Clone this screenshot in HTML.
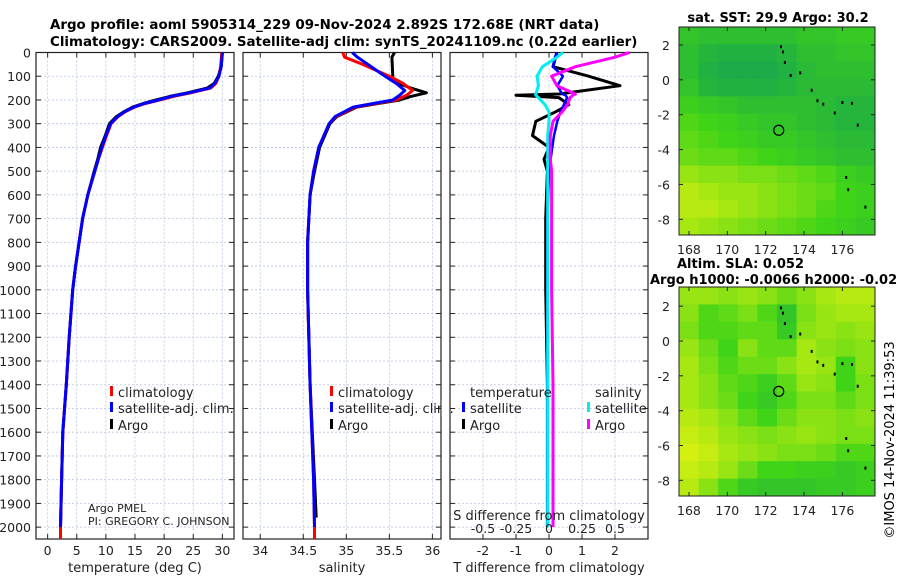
<!DOCTYPE html>
<html><head><meta charset="utf-8"><style>
html,body{margin:0;padding:0;background:#fff;}
svg{display:block;font-family:"DejaVu Sans","Liberation Sans",sans-serif;}
</style></head><body>
<svg id="fig" width="900" height="580" viewBox="0 0 900 580" xmlns="http://www.w3.org/2000/svg">
<text x="50" y="29" font-size="13.4" font-weight="bold">Argo profile: aoml 5905314_229 09-Nov-2024 2.892S 172.68E (NRT data)</text>
<text x="50" y="46" font-size="13.4" font-weight="bold">Climatology: CARS2009. Satellite-adj clim: synTS_20241109.nc (0.22d earlier)</text>
<text x="778" y="22" font-size="13" font-weight="bold" text-anchor="middle">sat. SST: 29.9 Argo: 30.2</text>
<text x="677" y="268" font-size="13" font-weight="bold">Altim. SLA: 0.052</text>
<text x="650" y="284" font-size="13" font-weight="bold">Argo h1000: -0.0066 h2000: -0.02</text>
<text transform="translate(894,440) rotate(-90)" font-size="13" text-anchor="middle">©IMOS 14-Nov-2024 11:39:53</text>
</svg>
<script>
// ---------- data ----------
const depthTicks=[0,100,200,300,400,500,600,700,800,900,1000,1100,1200,1300,1400,1500,1600,1700,1800,1900,2000];
const tTicks=[0,5,10,15,20,25,30];
const sTicks=[34,34.5,35,35.5,36];
const dTTicks=[-2,-1,0,1,2];
const dSTicks=[-0.5,-0.25,0,0.25,0.5];
const dSTickLabels=["-0.5","-0.25","0","0.25","0.5"];

const tDepth=[0,60,100,130,150,170,185,200,215,230,250,270,300,350,400,450,500,600,700,800,900,1000,1200,1400,1600,1800,2000];
const tArgo=[30,29.8,29.3,28.6,27.4,24,21,18.6,16.4,14.6,13.1,11.8,10.6,9.9,9.1,8.6,8.0,6.9,6.0,5.4,4.8,4.3,3.7,3.2,2.6,2.4,2.2];
const tClim=[29.9,29.7,29.4,28.9,28.0,24.6,21.6,19.2,16.8,14.9,13.3,12.1,10.9,10.1,9.4,8.7,8.1,6.9,6.0,5.4,4.8,4.3,3.7,3.2,2.6,2.4,2.2];
const tSat=[30,29.8,29.4,28.7,27.8,24.3,21.2,19.0,16.6,14.8,13.2,12.0,10.8,10.0,9.3,8.7,8.1,6.9,6.0,5.4,4.8,4.3,3.7,3.2,2.6,2.4,2.2];
const tClimDeep=[2.2,2.2]; const climDeepDepth=[2000,2050];

const sArgoDepth=[0,20,100,120,150,170,185,200,230,270,300,400,500,600,800,1000,1400,1800,1960];
const sArgo=[35.56,35.53,35.54,35.54,35.75,35.93,35.75,35.62,35.12,34.89,34.81,34.69,34.63,34.58,34.55,34.55,34.58,34.63,34.65];
const sClimDepth=[0,20,50,100,130,160,180,200,230,270,300,400,500,600,800,1000,1400,1800,2000];
const sClim=[34.96,34.98,35.19,35.5,35.66,35.77,35.7,35.58,35.1,34.88,34.8,34.68,34.62,34.58,34.55,34.55,34.58,34.62,34.63];
const sSat=[35.07,35.13,35.25,35.45,35.58,35.68,35.62,35.54,35.08,34.87,34.8,34.68,34.62,34.58,34.55,34.55,34.58,34.62,34.63];
const sClimDeep=[34.63,34.63];

const dDepth=[0,20,60,100,140,175,180,190,220,250,290,350,400,450,500,700,1000,1400,2000];
const dTArgo=[0.24,0.2,0.12,1.2,2.15,0.3,-1.0,0.3,0.6,0.2,-0.4,-0.5,0.0,-0.15,-0.05,-0.1,-0.1,-0.05,-0.05];
const dTSat=[0.24,0.18,0.12,0.42,0.25,0.4,0.5,0.55,0.45,0.35,0.25,0.15,0.1,0.05,0.0,-0.05,-0.05,-0.05,-0.05];
const dSSat=[0.106,0.06,-0.05,-0.09,-0.08,-0.1,-0.1,-0.08,-0.03,0.0,0.0,-0.01,-0.01,-0.01,-0.01,-0.01,-0.01,-0.01,-0.01];
const dSArgo=[0.61,0.5,0.2,0.02,0.06,0.2,0.18,0.16,0.14,0.1,0.03,0.01,0.01,0.01,0.02,0.02,0.02,0.03,0.03];

const lonTicks=[168,170,172,174,176];
const latTicks=[2,0,-2,-4,-6,-8];
const sstGrid=[
[0.35,0.3,0.3,0.3,0.3,0.3,0.35,0.35,0.4,0.4],
[0.3,0.2,0.15,0.15,0.15,0.2,0.3,0.3,0.35,0.35],
[0.3,0.15,0.1,0.1,0.1,0.15,0.25,0.3,0.3,0.3],
[0.35,0.2,0.15,0.15,0.15,0.2,0.25,0.25,0.25,0.25],
[0.45,0.4,0.35,0.3,0.3,0.3,0.3,0.25,0.2,0.2],
[0.55,0.5,0.45,0.4,0.35,0.35,0.3,0.25,0.2,0.2],
[0.6,0.55,0.5,0.45,0.4,0.4,0.35,0.3,0.25,0.25],
[0.65,0.6,0.6,0.55,0.5,0.45,0.4,0.35,0.3,0.3],
[0.8,0.75,0.75,0.7,0.7,0.65,0.6,0.55,0.45,0.4],
[0.9,0.85,0.8,0.8,0.75,0.7,0.65,0.6,0.5,0.45],
[0.9,0.9,0.85,0.8,0.75,0.7,0.65,0.55,0.5,0.45],
[0.85,0.8,0.75,0.7,0.65,0.6,0.55,0.5,0.45,0.4]];
const slaGrid=[
[0.8,0.8,0.75,0.8,0.75,0.65,0.75,0.85,0.9,0.9],
[0.75,0.55,0.6,0.7,0.55,0.35,0.7,0.8,0.85,0.85],
[0.7,0.55,0.55,0.6,0.6,0.4,0.75,0.8,0.75,0.8],
[0.8,0.65,0.5,0.75,0.6,0.6,0.85,0.75,0.7,0.75],
[0.85,0.7,0.55,0.65,0.65,0.75,0.85,0.8,0.5,0.75],
[0.85,0.75,0.6,0.55,0.45,0.6,0.8,0.75,0.5,0.7],
[0.85,0.75,0.65,0.5,0.4,0.55,0.7,0.7,0.6,0.7],
[0.9,0.85,0.75,0.6,0.5,0.65,0.75,0.75,0.7,0.75],
[0.95,0.9,0.8,0.75,0.7,0.75,0.8,0.75,0.7,0.7],
[1,0.95,0.85,0.8,0.75,0.7,0.7,0.65,0.55,0.55],
[0.95,0.9,0.8,0.65,0.5,0.5,0.45,0.45,0.4,0.45],
[0.9,0.75,0.55,0.4,0.35,0.35,0.35,0.4,0.4,0.45]];
const islandLon=[172.8,172.9,173.0,173.3,173.8,174.4,174.7,175.0,175.6,176.0,176.5,176.8,176.2,176.3,177.2];
const islandLat=[1.9,1.6,1.0,0.25,0.4,-0.6,-1.2,-1.4,-1.9,-1.3,-1.35,-2.6,-5.6,-6.3,-7.3];
const floatLon=[172.68]; const floatLat=[-2.892];

// ---------- helpers ----------
const NS="http://www.w3.org/2000/svg";
const svg=document.getElementById('fig');
function mk(tag,attrs,parent){const e=document.createElementNS(NS,tag);for(const k in attrs)e.setAttribute(k,attrs[k]);(parent||svg).appendChild(e);return e;}
const Y0=52.5,Y1=539,DMAX=2050;
const yD=d=>Y0+d*(Y1-Y0)/DMAX;
function lin(d0,d1,r0,r1){return v=>r0+(v-d0)*(r1-r0)/(d1-d0);}
const P1={x0:36,x1:234}, P2={x0:243,x1:441}, P3={x0:450,x1:648};
const xT=lin(-2,32,P1.x0,P1.x1), xS=lin(33.8,36.1,P2.x0,P2.x1), xDT=lin(-3,3,P3.x0,P3.x1), xDS=lin(-0.75,0.75,P3.x0,P3.x1);

function panel(P,xf,ticks,labels,name){
  const g=mk('g',{});
  
  
  for(const d of depthTicks){const l=mk('line',{x1:P.x0,x2:P.x1,y1:yD(d),y2:yD(d),stroke:'#b8c4e0','stroke-width':0.8,'stroke-dasharray':'2,2'},g);
    
    mk('line',{x1:P.x0,x2:P.x0+5,y1:yD(d),y2:yD(d),stroke:'#222'},g);mk('line',{x1:P.x1-5,x2:P.x1,y1:yD(d),y2:yD(d),stroke:'#222'},g);}
  ticks.forEach((t,i)=>{const x=xf(t);const l=mk('line',{x1:x,x2:x,y1:Y0,y2:Y1,stroke:'#b8c4e0','stroke-width':0.8,'stroke-dasharray':'2,2'},g);
    
    mk('line',{x1:x,x2:x,y1:Y1-5,y2:Y1,stroke:'#222'},g);mk('line',{x1:x,x2:x,y1:Y0,y2:Y0+5,stroke:'#222'},g);
    if(labels){const tx=mk('text',{x:x,y:555,'font-size':12.5,'text-anchor':'middle',fill:'#222'},g);tx.textContent=labels[i];
      }});
  const b=mk('rect',{x:P.x0,y:Y0,width:P.x1-P.x0,height:Y1-Y0,fill:'none',stroke:'#222','stroke-width':1.2},g);
  
  return g;
}
function line(xs,ds,xf,color,w,name,parent){
  const pts=xs.map((v,i)=>xf(v).toFixed(1)+','+yD(ds[i]).toFixed(1)).join(' ');
  const p=mk('polyline',{points:pts,fill:'none',stroke:color,'stroke-width':w,'stroke-linejoin':'round'},parent);
  
  
  return p;
}
function txt(x,y,s,size,name,anchor,parent){const t=mk('text',{x:x,y:y,'font-size':size,fill:'#222','text-anchor':anchor||'start'},parent);t.textContent=s;
  return t;}
function legBar(x,y,color){const r=mk('rect',{x:x,y:y-11,width:3,height:10,fill:color});
  }

// ---------- panel 1: temperature ----------
const g1=panel(P1,xT,tTicks,tTicks.map(String),'temperature-panel');
depthTicks.forEach(d=>txt(31,yD(d)+5,String(d),12.5,'y-tick-label','end'));
line(tClimDeep,climDeepDepth,xT,'#ff0000',3,'temp-climatology-deep',g1);
line(tArgo,tDepth,xT,'#000',3,'temp-argo-line',g1);
line(tClim,tDepth,xT,'#ff0000',3,'temp-climatology-line',g1);
line(tSat,tDepth,xT,'#0000ff',3,'temp-satellite-line',g1);
txt(135,572,'temperature (deg C)',13,'x-axis-title','middle');
legBar(110,397,'#f00');txt(118,397,'climatology',13,'legend-entry');
legBar(110,413,'#00f');txt(118,413,'satellite-adj. clim.',13,'legend-entry');
legBar(110,430,'#000');txt(118,430,'Argo',13,'legend-entry');
txt(88,512,'Argo PMEL',11,'pi-institution');
txt(88,525,'PI: GREGORY C. JOHNSON',11,'pi-name');

// ---------- panel 2: salinity ----------
const g2=panel(P2,xS,sTicks,sTicks.map(String),'salinity-panel');
line(sClimDeep,climDeepDepth,xS,'#ff0000',3,'sal-climatology-deep',g2);
line(sArgo,sArgoDepth,xS,'#000',3,'sal-argo-line',g2);
line(sClim,sClimDepth,xS,'#ff0000',3,'sal-climatology-line',g2);
line(sSat,sClimDepth,xS,'#0000ff',3,'sal-satellite-line',g2);
txt(342,572,'salinity',13,'x-axis-title','middle');
legBar(330,397,'#f00');txt(338,397,'climatology',13,'legend-entry');
legBar(330,413,'#00f');txt(338,413,'satellite-adj. clim.',13,'legend-entry');
legBar(330,430,'#000');txt(338,430,'Argo',13,'legend-entry');
const cover=mk('rect',{x:441.6,y:400,width:8,height:16,fill:'#fff'});


// ---------- panel 3: differences ----------
const g3=panel(P3,xDT,dTTicks,dTTicks.map(String),'difference-panel');
line(dTArgo,dDepth,xDT,'#000',3,'dT-argo-line',g3);
line(dTSat,dDepth,xDT,'#0000ff',2.5,'dT-satellite-line',g3);
line(dSSat,dDepth,xDS,'#00eeee',3,'dS-satellite-line',g3);
line(dSArgo,dDepth,xDS,'#ff00ff',3,'dS-argo-line',g3);
dSTicks.forEach((t,i)=>txt(xDS(t),533,dSTickLabels[i],12.5,'s-tick-label','middle'));
txt(549,520,'S difference from climatology',13,'s-axis-title','middle');
txt(549,572,'T difference from climatology',13,'x-axis-title','middle');
txt(470,397,'temperature',13,'legend-title');
legBar(462,413,'#00f');txt(470,413,'satellite',13,'legend-entry');
legBar(462,430,'#000');txt(470,430,'Argo',13,'legend-entry');
txt(595,397,'salinity',13,'legend-title');
legBar(587,413,'#0ee');txt(595,413,'satellite',13,'legend-entry');
legBar(587,430,'#f0f');txt(595,430,'Argo',13,'legend-entry');

// ---------- maps ----------
function cmap(v){const a=[20,160,84],b=[64,212,24],c=[212,240,16];let p,q,t;
  if(v<0.5){p=a;q=b;t=v/0.5;}else{p=b;q=c;t=(v-0.5)/0.5;}
  return 'rgb('+p.map((x,i)=>Math.round(x+(q[i]-x)*t)).join(',')+')';}
function map(y0,y1,lat0,lat1,grid,name){
  const x0=679,x1=875,lon0=167.48,lon1=177.7;
  const xf=lin(lon0,lon1,x0,x1), yf=lin(lat0,lat1,y0,y1);
  const g=mk('g',{});
  
  
  const rows=grid.length, cols=grid[0].length;
  const cw=(x1-x0)/cols, ch=(y1-y0)/rows;
  grid.forEach((row,r)=>row.forEach((v,c)=>{const rc=mk('rect',{x:x0+c*cw,y:y0+r*ch,width:cw+0.5,height:ch+0.5,fill:cmap(v)},g);
    }));
  islandLon.forEach((lo,i)=>{const d=mk('rect',{x:xf(lo)-1,y:yf(islandLat[i])-1.5,width:2,height:3,fill:'#000'},g);
    });
  floatLon.forEach((lo,i)=>{const c=mk('circle',{cx:xf(lo),cy:yf(floatLat[i]),r:5,fill:'none',stroke:'#000','stroke-width':1.2},g);
    });
  const f=mk('rect',{x:x0,y:y0,width:x1-x0,height:y1-y0,fill:'none',stroke:'#222','stroke-width':1},g);
  
  lonTicks.forEach(lo=>{const x=xf(lo);mk('line',{x1:x,x2:x,y1:y1,y2:y1-4,stroke:'#222'},g);mk('line',{x1:x,x2:x,y1:y0,y2:y0+4,stroke:'#222'},g);
    txt(x,y1+19,String(lo),12.5,'lon-tick-label','middle');});
  latTicks.forEach(la=>{const y=yf(la);mk('line',{x1:x0,x2:x0+4,y1:y,y2:y,stroke:'#222'},g);mk('line',{x1:x1,x2:x1-4,y1:y,y2:y,stroke:'#222'},g);
    txt(x0-9,y+5,String(la),12.5,'lat-tick-label','end');});
}
map(27,235,3.03,-8.9,sstGrid,'sst-map');
map(287,496,3.1,-8.9,slaGrid,'sla-map');
</script>
</body></html>
